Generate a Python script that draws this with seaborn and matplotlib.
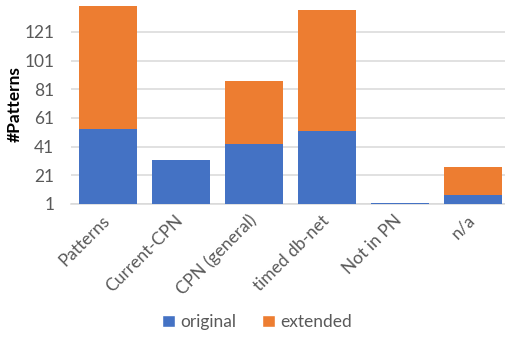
import matplotlib
matplotlib.use("Agg")
import matplotlib.pyplot as plt
import seaborn as sns
import pandas as pd
from matplotlib.patches import Patch

categories = ["Patterns", "Current-CPN", "CPN (general)", "timed db-net", "Not in PN", "n/a"]
original = [53, 32, 43, 52, 2, 7.5]
extended = [86, 0, 44, 84, 0, 19]
yticks = [1, 21, 41, 61, 81, 101, 121]
series_names = ["original", "extended"]

BLUE = "#4472C4"
ORANGE = "#ED7D31"
GRAY = "#595959"

sns.set_theme(style="white")
plt.rcParams["font.family"] = ["Lato", "DejaVu Sans"]

totals = [o + e for o, e in zip(original, extended)]
df = pd.DataFrame({"category": categories, "original": original, "total": totals})

W, H = 505, 337
fig = plt.figure(figsize=(W / 100, H / 100), dpi=100)
ax = fig.add_axes([71 / W, (H - 204) / H, (505 - 71) / W, (204 - 3.3) / H])

bw = 58 / 73
sns.barplot(data=df, x="category", y="total", color=ORANGE, width=bw, ax=ax,
            saturation=1, linewidth=0, zorder=3)
sns.barplot(data=df, x="category", y="original", color=BLUE, width=bw, ax=ax,
            saturation=1, linewidth=0, zorder=3)

ax.set_ylim(1, 141)
ax.set_xlim(-0.5, 5.445)
ax.set_yticks(yticks)
ax.set_yticklabels([str(t) for t in yticks], color=GRAY, fontsize=12.5)
ax.yaxis.grid(True, color="#D9D9D9", linewidth=1.1, zorder=0)
ax.set_axisbelow(True)
for s in ["top", "right", "left"]:
    ax.spines[s].set_visible(False)
ax.spines["bottom"].set_color("#D9D9D9")
ax.spines["bottom"].set_linewidth(1.1)
ax.tick_params(axis="y", length=0, pad=12)
ax.tick_params(axis="x", length=0, pad=10)
ax.set_xticks(range(len(categories)))
ax.set_xticklabels(categories, rotation=45, ha="right", va="center",
                   rotation_mode="anchor", color=GRAY, fontsize=12.5)
ax.set_xlabel("")
ax.set_ylabel("#Patterns", fontsize=12.5, fontweight="bold", color="black", labelpad=1)

handles = [Patch(facecolor=BLUE, label=series_names[0]),
           Patch(facecolor=ORANGE, label=series_names[1])]
fig.legend(handles=handles, loc="center", bbox_to_anchor=(257 / W, 1 - 322 / H),
           ncol=2, frameon=False, fontsize=12.5, handlelength=0.75, handleheight=0.75,
           handletextpad=0.3, columnspacing=1.5, labelcolor=GRAY)

fig.savefig("out.png", dpi=100)
